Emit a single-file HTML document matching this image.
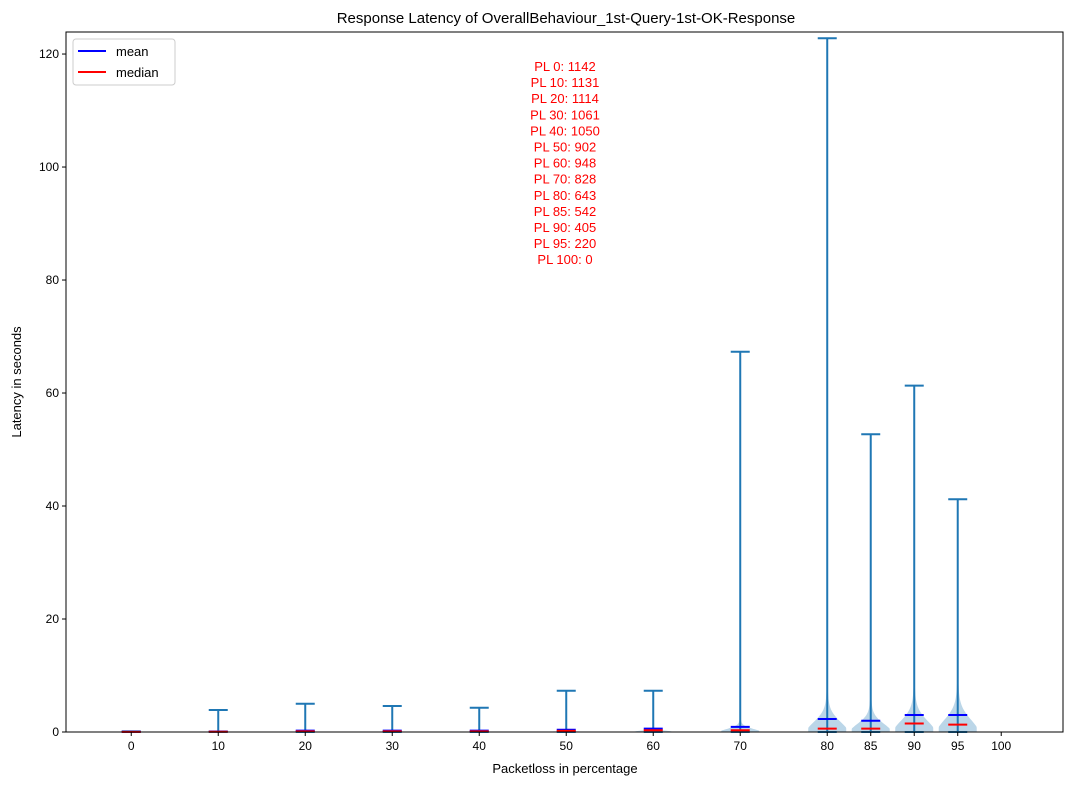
<!DOCTYPE html>
<html><head><meta charset="utf-8"><style>
body{margin:0;background:#fff;font-family:"Liberation Sans","DejaVu Sans",sans-serif}
</style></head><body>
<svg id="c" width="1075" height="785" xmlns="http://www.w3.org/2000/svg" font-family="Liberation Sans, DejaVu Sans, sans-serif"></svg>
<script>
const positions=[0,10,20,30,40,50,60,70,80,85,90,95];
const maxes=[0.1,3.9,5.0,4.6,4.3,7.3,7.3,67.3,122.8,52.7,61.3,41.2];
const means=[0.05,0.08,0.25,0.25,0.25,0.4,0.6,0.9,2.3,2.0,3.0,3.0];
const medians=[0.03,0.05,0.1,0.1,0.1,0.2,0.3,0.3,0.6,0.6,1.5,1.3];
const bodyTop=[0.15,0.2,0.3,0.3,0.3,0.5,1.2,3,10,8,11,12];
const xTicks=[0,10,20,30,40,50,60,70,80,85,90,95,100];
const yTicks=[0,20,40,60,80,100,120];
const annotations=["PL 0: 1142","PL 10: 1131","PL 20: 1114","PL 30: 1061","PL 40: 1050","PL 50: 902","PL 60: 948","PL 70: 828","PL 80: 643","PL 85: 542","PL 90: 405","PL 95: 220","PL 100: 0"];
const svg=document.getElementById('c');const NS='http://www.w3.org/2000/svg';
const L=66,R=1063,T=32,B=732,xmin=-7.5,xmax=107.1,ymin=0,ymax=123.9;
const X=v=>L+(v-xmin)/(xmax-xmin)*(R-L);
const Y=v=>B-(v-ymin)/(ymax-ymin)*(B-T);
function el(t,a,p){const e=document.createElementNS(NS,t);for(const k in a)e.setAttribute(k,a[k]);(p||svg).appendChild(e);return e;}
const hw=9.5;
positions.forEach((p,i)=>{
 const cx=X(p);
 let pts=[],W=19,top=bodyTop[i];
 const n=50;
 for(let k=0;k<=n;k++){const t=k/n;const v=top*t;
  const g=Math.exp(-Math.pow((t+0.04)/0.3,2));
  const w=W*g/Math.exp(-Math.pow(0.04/0.3,2))*(1-0.12*Math.exp(-t*60))+2.5*(1-t);
  pts.push([cx+Math.min(w,W),Y(v)]);}
 let d='M'+pts.map(q=>q[0]+','+q[1]).join('L');
 d+='L'+pts.slice().reverse().map(q=>(2*cx-q[0])+','+q[1]).join('L')+'Z';
 const b=el('path',{d:d,fill:'#1f77b4','fill-opacity':0.3});
 
 
 const v=el('line',{x1:cx,x2:cx,y1:Y(0),y2:Y(maxes[i]),stroke:'#1f77b4','stroke-width':2});
 
 
 const c1=el('line',{x1:cx-hw,x2:cx+hw,y1:Y(maxes[i]),y2:Y(maxes[i]),stroke:'#1f77b4','stroke-width':2});
 
 
 const c2=el('line',{x1:cx-hw,x2:cx+hw,y1:Y(0),y2:Y(0),stroke:'#1f77b4','stroke-width':2});
 
 
 const m=el('line',{x1:cx-hw,x2:cx+hw,y1:Y(means[i]),y2:Y(means[i]),stroke:'#0000ff','stroke-width':2});
 
 
 const md=el('line',{x1:cx-hw,x2:cx+hw,y1:Y(medians[i]),y2:Y(medians[i]),stroke:'#ff0000','stroke-width':2});
 
 
});
const fr=el('rect',{x:L,y:T,width:R-L,height:B-T,fill:'none',stroke:'#000','stroke-width':1});


xTicks.forEach(t=>{const x=X(t);el('line',{x1:x,x2:x,y1:B,y2:B+4,stroke:'#000'});
 const tx=el('text',{x:x,y:B+18,'text-anchor':'middle','font-size':12});tx.textContent=t;
 
 });
yTicks.forEach(t=>{const y=Y(t);el('line',{x1:L-4,x2:L,y1:y,y2:y,stroke:'#000'});
 const tx=el('text',{x:L-7,y:y+4,'text-anchor':'end','font-size':12});tx.textContent=t;
 
 });
annotations.forEach((s,i)=>{const tx=el('text',{x:565,y:71+i*16.1,'text-anchor':'middle','font-size':13,fill:'#ff0000'});tx.textContent=s;
 
 });
</script>
<svg width="1075" height="785" style="position:absolute;left:0;top:0" font-family="Liberation Sans, DejaVu Sans, sans-serif">
<text x="566" y="23" text-anchor="middle" font-size="15">Response Latency of OverallBehaviour_1st-Query-1st-OK-Response</text>
<text x="565" y="773" text-anchor="middle" font-size="13">Packetloss in percentage</text>
<text transform="translate(21,382) rotate(-90)" text-anchor="middle" font-size="13">Latency in seconds</text>
<g>
<rect x="73" y="39" width="102" height="46" rx="3" fill="#fff" stroke="#ccc"/>
<line x1="78" x2="106" y1="51" y2="51" stroke="#0000ff" stroke-width="2"/>
<text x="116" y="56" font-size="13">mean</text>
<line x1="78" x2="106" y1="72" y2="72" stroke="#ff0000" stroke-width="2"/>
<text x="116" y="77" font-size="13">median</text>
</g>
</svg>
</body></html>
